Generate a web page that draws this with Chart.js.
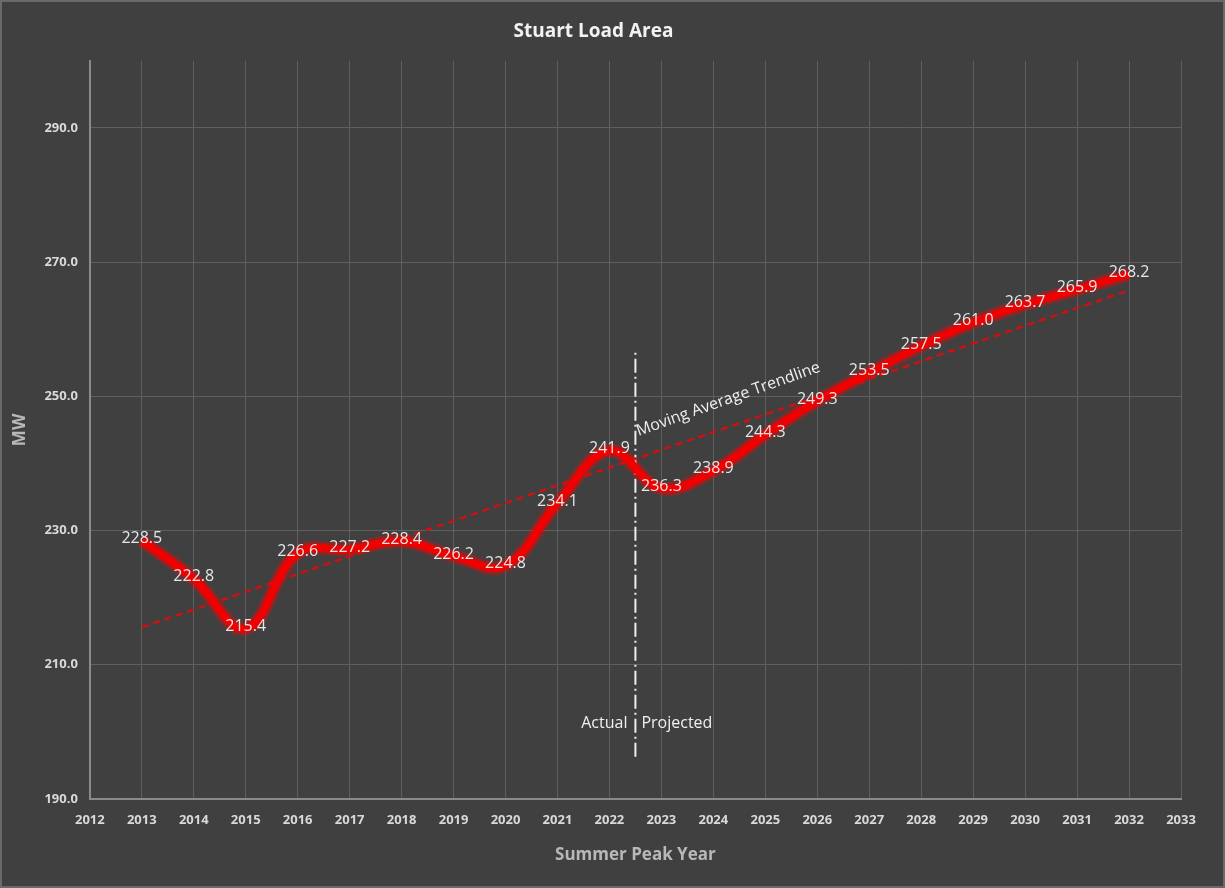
<!DOCTYPE html>
<html>
<head>
<meta charset="utf-8">
<script src="https://cdn.jsdelivr.net/npm/chart.js@4.4.1/dist/chart.umd.min.js"></script>
<style>
  html, body { margin: 0; padding: 0; background: #404040; }
  #wrap { width: 1225px; height: 888px; position: relative; box-sizing: border-box; border: 2px solid #6a6a6a; }
</style>
</head>
<body>
<div id="wrap"><canvas id="chart" width="1221" height="884"></canvas></div>
<script>
// Summer peak load, MW
const years = [2013, 2014, 2015, 2016, 2017, 2018, 2019, 2020, 2021, 2022,
               2023, 2024, 2025, 2026, 2027, 2028, 2029, 2030, 2031, 2032];
const peakMW = [228.5, 222.8, 215.4, 226.6, 227.2, 228.4, 226.2, 224.8, 234.1, 241.9,
                236.3, 238.9, 244.3, 249.3, 253.5, 257.5, 261.0, 263.7, 265.9, 268.2];

// trendline end points
const trendYears = [2013, 2032];
const trendMW = [215.6, 265.8];

// actual / projected divider
const dividerYears = [2022.5, 2022.5];
const dividerMW = [196.3, 257.0];

const yTicks = [190, 210, 230, 250, 270, 290];

const txtColor = '#d9d9d9';
const gridColor = '#5f5f5f';

const pts = (xs, ys) => xs.map((x, i) => ({ x: x, y: ys[i] }));

const annotations = {
  id: 'annotations',
  afterDatasetsDraw(chart) {
    const { ctx, scales: { x, y } } = chart;
    ctx.save();
    // value labels, centred on the points
    ctx.font = '16px "Open Sans"';
    ctx.fillStyle = '#e6e6e6';
    ctx.textAlign = 'center';
    ctx.textBaseline = 'middle';
    years.forEach((yr, i) => {
      ctx.fillText(peakMW[i].toFixed(1), x.getPixelForValue(yr), y.getPixelForValue(peakMW[i]) - 2);
    });
    // actual / projected
    ctx.font = '16px "Open Sans"';
    ctx.fillStyle = '#f0f0f0';
    const dx = x.getPixelForValue(2022.5);
    const dy = y.getPixelForValue(201.2);
    ctx.textAlign = 'right';
    ctx.fillText('Actual', dx - 8, dy);
    ctx.textAlign = 'left';
    ctx.fillText('Projected', dx + 6, dy);
    // trendline caption
    ctx.translate(x.getPixelForValue(2022.56), y.getPixelForValue(244.1));
    ctx.rotate(-19.5 * Math.PI / 180);
    ctx.textBaseline = 'alphabetic';
    ctx.fillText('Moving Average Trendline', 0, 0);
    ctx.restore();
  }
};

new Chart(document.getElementById('chart'), {
  type: 'line',
  data: {
    datasets: [
      {
        label: 'glow',
        data: pts(years, peakMW),
        borderColor: 'rgba(255, 0, 0, 0.35)',
        borderWidth: 14,
        pointRadius: 0,
        tension: 0.4
      },
      {
        label: 'Summer Peak',
        data: pts(years, peakMW),
        borderColor: '#e80000',
        borderWidth: 8,
        pointRadius: 0,
        tension: 0.4
      },
      {
        label: 'Moving Average Trendline',
        data: pts(trendYears, trendMW),
        borderColor: '#d01010',
        borderWidth: 2.5,
        borderDash: [7, 5],
        pointRadius: 0
      },
      {
        label: 'divider',
        data: pts(dividerYears, dividerMW),
        borderColor: '#eeeeee',
        borderWidth: 2,
        borderDash: [14, 4, 2, 4],
        pointRadius: 0
      }
    ]
  },
  options: {
    responsive: false,
    animation: false,
    layout: { padding: { left: 4, right: 42, top: 4, bottom: 17 } },
    plugins: {
      legend: { display: false },
      tooltip: { enabled: false },
      title: {
        display: true,
        text: 'Stuart Load Area',
        color: '#f2f2f2',
        font: { family: 'Open Sans', size: 19, weight: 'bold' },
        padding: { top: 14, bottom: 18 }
      }
    },
    scales: {
      x: {
        type: 'linear',
        min: 2012,
        max: 2033,
        ticks: {
          stepSize: 1,
          color: txtColor,
          font: { family: 'Open Sans', size: 13, weight: 'bold' },
          callback: v => String(v),
          maxRotation: 0,
          padding: 13
        },
        grid: { color: gridColor, drawTicks: false },
        border: { color: '#8a8a8a', width: 2 },
        title: {
          display: true,
          text: 'Summer Peak Year',
          color: '#b8b8b8',
          font: { family: 'Open Sans', size: 17, weight: 'bold' },
          padding: { top: 4 }
        }
      },
      y: {
        min: 190,
        max: 300,
        afterBuildTicks: s => { s.ticks = yTicks.map(v => ({ value: v })); },
        ticks: {
          color: txtColor,
          font: { family: 'Open Sans', size: 13, weight: 'bold' },
          callback: v => Number(v).toFixed(1),
          padding: 12
        },
        grid: { color: gridColor, drawTicks: false },
        border: { color: '#8a8a8a', width: 2 },
        title: {
          display: true,
          text: 'MW',
          color: '#b8b8b8',
          font: { family: 'Open Sans', size: 17, weight: 'bold' },
          padding: { bottom: 2 }
        }
      }
    }
  },
  plugins: [annotations]
});
</script>
</body>
</html>
